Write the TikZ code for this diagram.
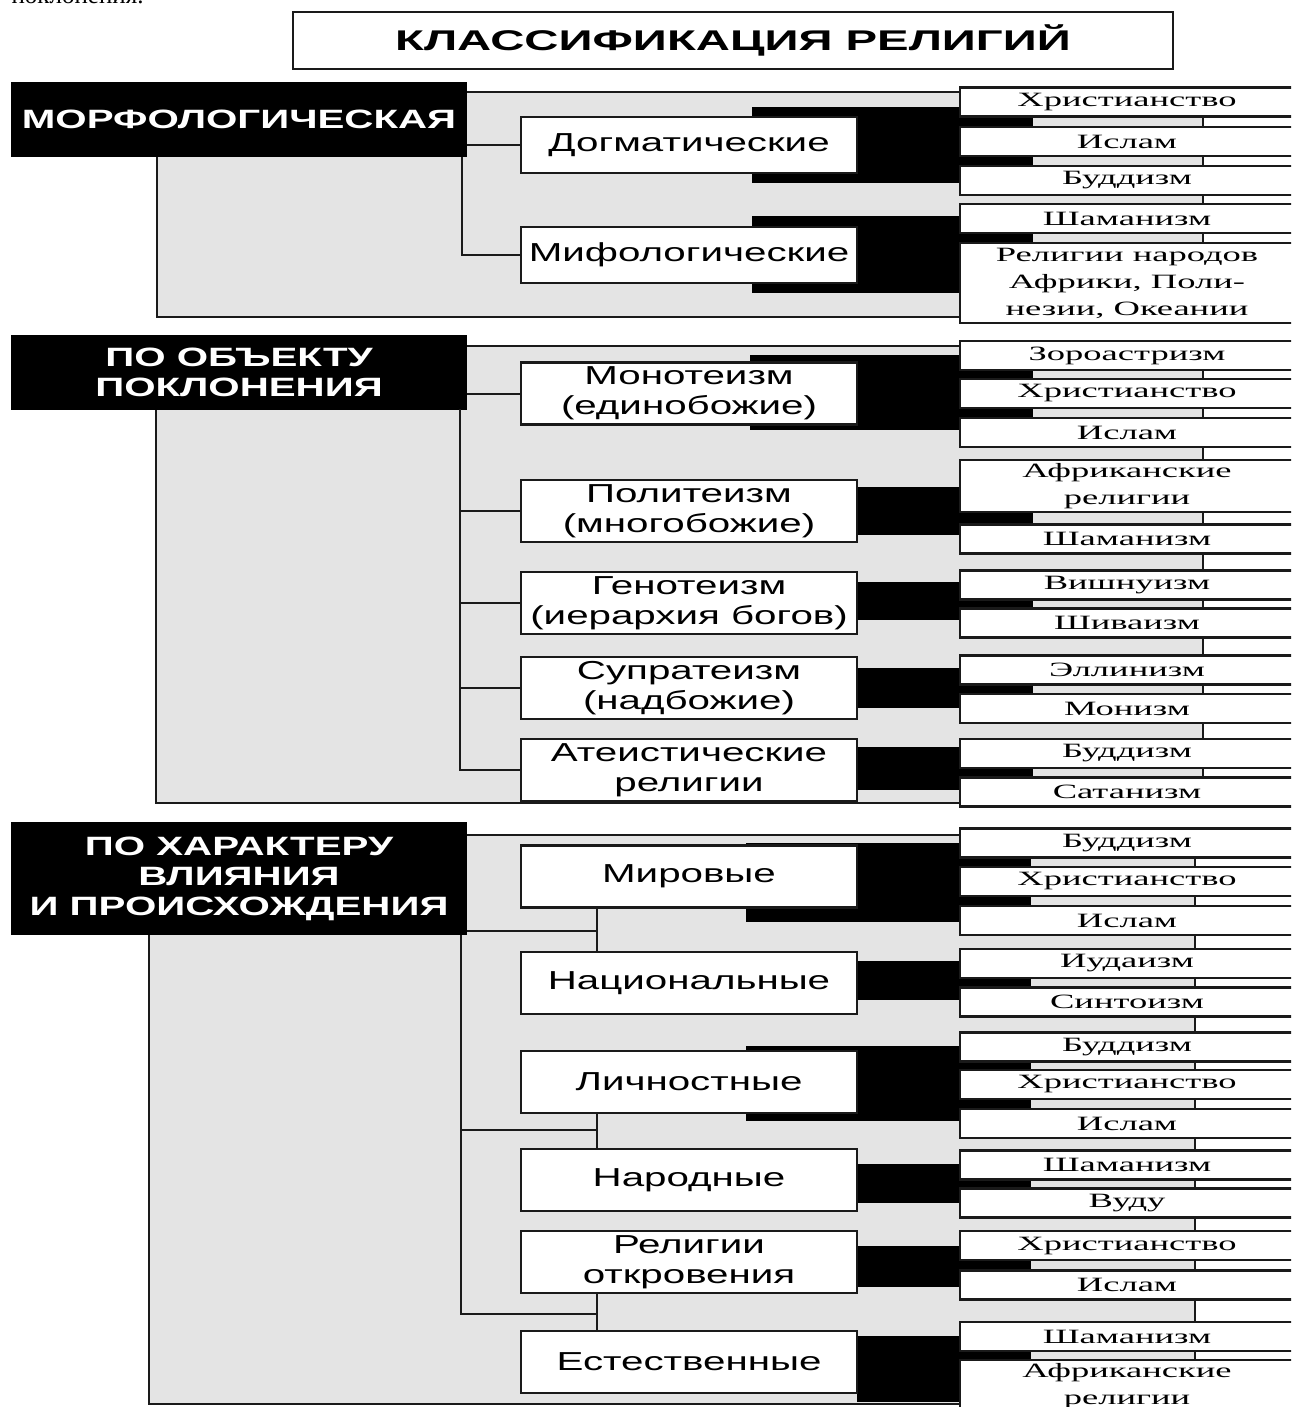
\documentclass[tikz,border=0pt]{standalone}
\usepackage{fontspec}
\setmainfont{Liberation Serif}
\newfontfamily\boxfont{Liberation Sans}[FakeStretch=1.55]
\newfontfamily\headfont{Liberation Sans}[FakeStretch=1.52]
\newfontfamily\titlefont{Liberation Sans}[FakeStretch=1.66]
\newfontfamily\relfont{Liberation Serif}[FakeStretch=1.8]
\usepackage{tikz}
\usetikzlibrary{positioning}
\definecolor{panelgray}{HTML}{E4E4E4}
\definecolor{linegray}{HTML}{1A1A1A}

\begin{document}
\begin{tikzpicture}[
    x=1pt, y=-1pt,
    header/.style={rectangle, fill=black, text=white, align=center,
                   minimum width=456pt, minimum height=75pt, inner sep=0pt,
                   font=\headfont\bfseries\fontsize{26.5}{30}\selectfont},
    title/.style={rectangle, draw=linegray, line width=2pt, fill=white,
                  minimum width=880pt, minimum height=57pt, inner sep=0pt,
                  font=\titlefont\bfseries\fontsize{28.5}{32}\selectfont},
    kind/.style={rectangle, draw=linegray, line width=2.3pt, fill=white,
                 align=center, minimum width=336pt, minimum height=62pt,
                 inner sep=0pt, font=\boxfont\fontsize{26}{30}\selectfont},
    rel/.style={rectangle, draw=linegray, line width=2.2pt, fill=white,
                align=center, minimum width=334pt, minimum height=29pt,
                inner sep=0pt, font=\relfont\fontsize{20.3}{27}\selectfont},
    panel/.style={fill=panelgray, draw=linegray, line width=2pt},
    bar/.style={fill=black},
    link/.style={draw=linegray, line width=2pt}
  ]
    \useasboundingbox (0,0) rectangle (1291,1407);
    \clip (0,0) rectangle (1291,1407);
    \fill[white] (0,0) rectangle (1291,1407);

    % Page text and title
    \node[anchor=base west, font=\rmfamily\fontsize{25}{25}\selectfont] (frag) at (8,3.5) {поклонения.};
    \node[title] (main) at (733,40.5) {КЛАССИФИКАЦИЯ РЕЛИГИЙ};

    % Morphological
    \draw[panel] (157,92) rectangle (1203,317);
    \fill[bar] (752,107) rectangle (1033,183);
    \fill[bar] (752,216) rectangle (1033,293);
    \node[header] (morph) at (239,119.5) {МОРФОЛОГИЧЕСКАЯ};
    \node[kind, minimum height=56pt] (dogm) at (689,145) {Догматические};
    \node[kind, minimum height=56pt] (myth) at (689,255) {Мифологические};
    \coordinate (mtrunk) at (462,157);
    \draw[link] (morph.east |- dogm.west) -- (dogm.west);
    \draw[link] (mtrunk) |- (myth.west);
    \node[rel] (m1) at (1127,102) {Христианство};
    \node[rel] (m2) at (1127,141.5) {Ислам};
    \node[rel] (m3) at (1127,180.5) {Буддизм};
    \node[rel] (m4) at (1127,218.5) {Шаманизм};
    \node[rel, minimum height=80pt] (m5) at (1127,283) {Религии народов\\Африки, Поли-\\незии, Океании};

    % By object of worship
    \draw[panel] (156,346) rectangle (1203,803);
    \fill[bar] (750,355) rectangle (1033,430);
    \fill[bar] (857,487) rectangle (1033,535);
    \fill[bar] (857,582) rectangle (1033,620);
    \fill[bar] (857,668) rectangle (1033,708);
    \fill[bar] (857,747) rectangle (1033,790);
    \node[header] (obj) at (239,372) {ПО ОБЪЕКТУ\\ПОКЛОНЕНИЯ};
    \node[kind] (mono) at (689,393.5) {Монотеизм\\(единобожие)};
    \node[kind] (poly) at (689,511) {Политеизм\\(многобожие)};
    \node[kind] (geno) at (689,603) {Генотеизм\\(иерархия богов)};
    \node[kind] (supra) at (689,688) {Супратеизм\\(надбожие)};
    \node[kind] (athe) at (689,770) {Атеистические\\религии};
    \coordinate (otrunk) at (460,409);
    \draw[link] (obj.east |- mono.west) -- (mono.west);
    \draw[link] (otrunk |- poly.west) -- (poly.west);
    \draw[link] (otrunk |- geno.west) -- (geno.west);
    \draw[link] (otrunk |- supra.west) -- (supra.west);
    \draw[link] (otrunk) |- (athe.west);
    \node[rel] (o1) at (1127,355.5) {Зороастризм};
    \node[rel] (o2) at (1127,393.5) {Христианство};
    \node[rel] (o3) at (1127,432.5) {Ислам};
    \node[rel, minimum height=52pt] (o4) at (1127,486) {Африканские\\религии};
    \node[rel] (o5) at (1127,539) {Шаманизм};
    \node[rel] (o6) at (1127,585) {Вишнуизм};
    \node[rel] (o7) at (1127,623) {Шиваизм};
    \node[rel] (o8) at (1127,670) {Эллинизм};
    \node[rel] (o9) at (1127,708.5) {Монизм};
    \node[rel] (o10) at (1127,753.5) {Буддизм};
    \node[rel] (o11) at (1127,792) {Сатанизм};

    % By influence and origin
    \draw[panel] (149,835) rectangle (1195,1404);
    \fill[bar] (746,843) rectangle (1031,922);
    \fill[bar] (857,961) rectangle (1031,1000);
    \fill[bar] (746,1046) rectangle (1031,1121);
    \fill[bar] (857,1164) rectangle (1031,1203);
    \fill[bar] (857,1246) rectangle (1031,1287);
    \fill[bar] (857,1336) rectangle (1031,1402);
    \node[header, minimum height=113pt] (infl) at (239,878.5) {ПО ХАРАКТЕРУ\\ВЛИЯНИЯ\\И ПРОИСХОЖДЕНИЯ};
    \node[kind] (world) at (689,876.5) {Мировые};
    \node[kind] (natn) at (689,983) {Национальные};
    \node[kind] (pers) at (689,1082) {Личностные};
    \node[kind] (folk) at (689,1180) {Народные};
    \node[kind] (revel) at (689,1262) {Религии\\откровения};
    \node[kind] (natur) at (689,1362) {Естественные};
    \coordinate (htrunk) at (461,935);
    \coordinate (hj1) at (597,931);
    \coordinate (hj2) at (597,1130);
    \coordinate (hj3) at (597,1314);
    \draw[link] (infl.east |- hj1) -- (hj1);
    \draw[link] (world.south -| hj1) -- (natn.north -| hj1);
    \draw[link] (htrunk |- hj2) -- (hj2);
    \draw[link] (pers.south -| hj2) -- (folk.north -| hj2);
    \draw[link] (htrunk) |- (hj3);
    \draw[link] (revel.south -| hj3) -- (natur.north -| hj3);
    \node[rel] (h1) at (1127,843) {Буддизм};
    \node[rel] (h2) at (1127,881.5) {Христианство};
    \node[rel] (h3) at (1127,920.5) {Ислам};
    \node[rel] (h4) at (1127,963.5) {Иудаизм};
    \node[rel] (h5) at (1127,1002) {Синтоизм};
    \node[rel] (h6) at (1127,1047) {Буддизм};
    \node[rel] (h7) at (1127,1084.5) {Христианство};
    \node[rel] (h8) at (1127,1123.5) {Ислам};
    \node[rel] (h9) at (1127,1165) {Шаманизм};
    \node[rel] (h10) at (1127,1203) {Вуду};
    \node[rel] (h11) at (1127,1245.5) {Христианство};
    \node[rel] (h12) at (1127,1285) {Ислам};
    \node[rel] (h13) at (1127,1336.5) {Шаманизм};
    \node[rel, minimum height=52pt] (h14) at (1127,1386) {Африканские\\религии};
  \end{tikzpicture}
\end{document}
